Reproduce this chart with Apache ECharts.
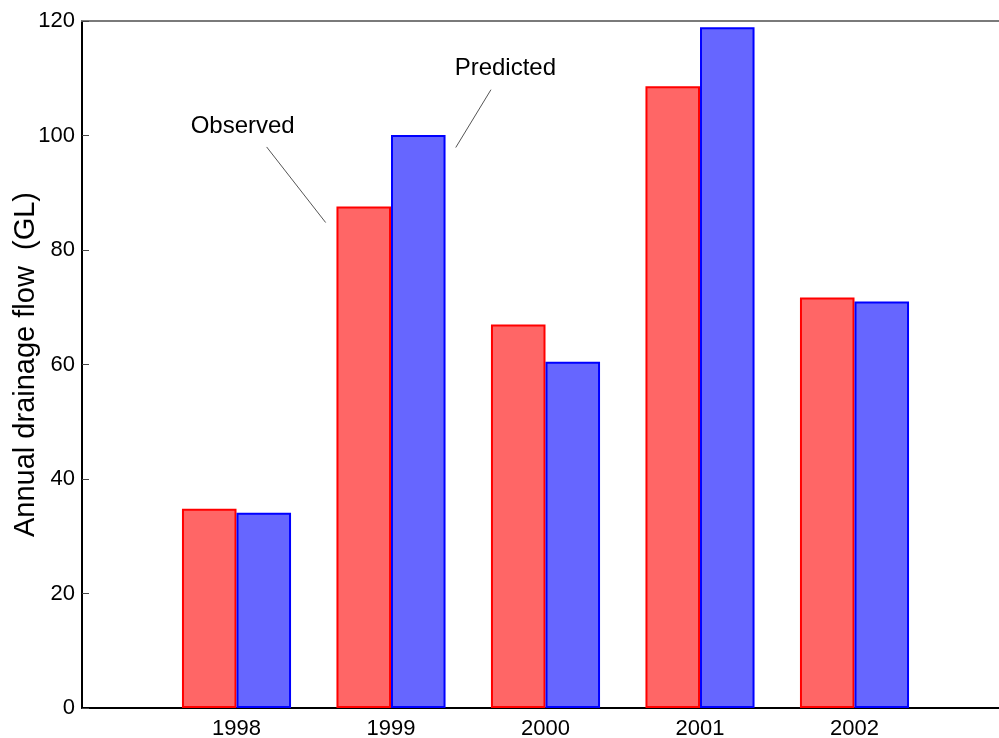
<!DOCTYPE html>
<html>
<head>
<meta charset="utf-8">
<script src="https://cdn.jsdelivr.net/npm/echarts@6/dist/echarts.min.js"></script>
<style>
html,body{margin:0;padding:0;background:#fff;}
#chart{width:999px;height:738px;}
</style>
</head>
<body>
<div id="chart"></div>
<script>
// ---- data ----
const years = [1998, 1999, 2000, 2001, 2002];
const xTickLabels = ['1998', '1999', '2000', '2001', '2002'];
const observed = [34.8, 87.6, 67.0, 108.6, 71.7];
const predicted = [34.1, 100.1, 60.5, 118.9, 71.0];
const yTicks = [0, 20, 40, 60, 80, 100, 120];
const yAxisTitle = 'Annual drainage flow  (GL)';

// annotation anchors (data coordinates)
const annotations = [
  { text: 'Observed', label: [1998.04, 101.6], line: [[1998.195, 98.0], [1998.577, 84.8]] },
  { text: 'Predicted', label: [1999.74, 111.7], line: [[1999.647, 108.0], [1999.419, 97.9]] }
];

const font = 'Liberation Sans, Arial, sans-serif';
const chart = echarts.init(document.getElementById('chart'), null, { renderer: 'canvas' });

const xMin = years[0] - 1, xMax = years[years.length - 1] + 1;

chart.setOption({
  animation: false,
  backgroundColor: '#ffffff',
  grid: { left: 82, right: -10, top: 21, bottom: 30, containLabel: false, outerBoundsMode: 'none' },
  xAxis: [{
    type: 'value', min: xMin, max: xMax, interval: 1,
    axisLine: { show: true, onZero: false, lineStyle: { color: '#000', width: 2 } },
    axisTick: { show: false },
    splitLine: { show: false },
    axisLabel: {
      margin: 10, fontSize: 22, fontFamily: font, color: '#000',
      formatter: v => { const i = years.indexOf(v); return i >= 0 ? xTickLabels[i] : ''; }
    }
  }, {
    type: 'value', position: 'top', min: xMin, max: xMax, interval: 1,
    axisLine: { show: true, onZero: false, lineStyle: { color: '#7a7a7a', width: 2 } },
    axisTick: { show: false }, axisLabel: { show: false }, splitLine: { show: false }
  }],
  yAxis: {
    type: 'value', min: yTicks[0], max: yTicks[yTicks.length - 1], interval: 20,
    name: yAxisTitle, nameLocation: 'middle', nameGap: 42, nameMoveOverlap: false,
    nameTextStyle: { fontSize: 29, fontFamily: font, color: '#000' },
    axisLine: { show: true, lineStyle: { color: '#000', width: 2 } },
    axisTick: { show: true, inside: true, length: 7, lineStyle: { color: '#444', width: 1 } },
    splitLine: { show: false },
    axisLabel: { margin: 7, fontSize: 22, fontFamily: font, color: '#000' }
  },
  series: [{
    name: 'Observed', type: 'bar', xAxisIndex: 0,
    data: years.map((y, i) => [y, observed[i]]),
    barWidth: '35.3%', barGap: '0%',
    itemStyle: { color: '#ff6666', borderColor: '#ff0000', borderWidth: 2 }
  }, {
    name: 'Predicted', type: 'bar', xAxisIndex: 0,
    data: years.map((y, i) => [y, predicted[i]]),
    barWidth: '35.3%', barGap: '0%',
    itemStyle: { color: '#6666ff', borderColor: '#0000ff', borderWidth: 2 }
  }, {
    name: 'annotations', type: 'line', xAxisIndex: 0, data: [], symbol: 'none',
    markLine: {
      silent: true, symbol: ['none', 'none'], label: { show: false },
      lineStyle: { color: '#555', width: 1, type: 'solid' },
      data: annotations.map(a => [{ coord: a.line[0] }, { coord: a.line[1] }])
    },
    markPoint: {
      silent: true, symbol: 'rect', symbolSize: 1,
      itemStyle: { color: 'rgba(0,0,0,0)' },
      label: { show: true, position: 'inside', fontSize: 24, fontFamily: font, color: '#000' },
      data: annotations.map(a => ({ coord: a.label, label: { formatter: a.text } }))
    }
  }]
});
</script>
</body>
</html>
